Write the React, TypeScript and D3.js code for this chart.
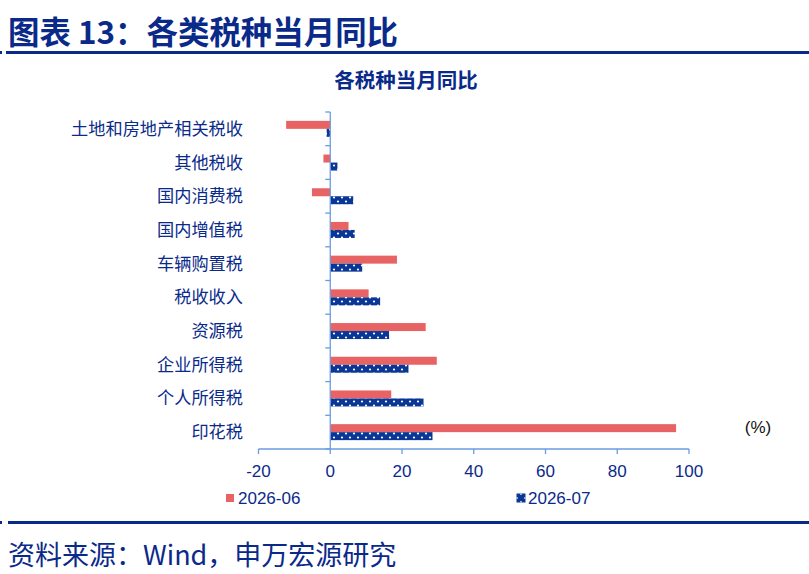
import React from "react";
import * as d3 from "d3";

const categories = [
  "土地和房地产相关税收",
  "其他税收",
  "国内消费税",
  "国内增值税",
  "车辆购置税",
  "税收收入",
  "资源税",
  "企业所得税",
  "个人所得税",
  "印花税",
];
const seriesJun = [-12.3, -1.9, -5.1, 5.1, 18.6, 10.7, 26.6, 29.7, 17.0, 96.4];
const seriesJul = [-1.0, 2.0, 6.4, 6.8, 8.9, 13.9, 16.4, 21.8, 26.0, 28.5];
const xTicks = [-20, 0, 20, 40, 60, 80, 100];
const seriesNames = ["2026-06", "2026-07"];

const W = 809;
const H = 574;
const NAVY = "#0a2a8a";
const AXIS = "#6a9be0";
const RED = "#e86464";
const BLUE = "#0a3696";
const FONT = "'Liberation Sans', 'Noto Sans CJK SC', sans-serif";
const CJK = "'Noto Sans CJK SC', 'Liberation Sans', sans-serif";

export default function App() {
  const x = d3.scaleLinear().domain([-20, 100]).range([258.5, 689]);
  const y = d3.scaleBand().domain(categories).range([112, 449]).padding(0);
  const barH = 8;
  const x0 = x(0);

  return (
    <div style={{ position: "fixed", left: 0, top: 0 }}>
      <svg width={W} height={H} style={{ display: "block", background: "#fff" }}>
        <defs>
          <pattern id="dots" width="8" height="8" patternUnits="userSpaceOnUse">
            <rect width="8" height="8" fill={BLUE} />
            <circle cx="2" cy="1.5" r="1.1" fill="#fff" />
            <circle cx="6" cy="5.5" r="1.1" fill="#fff" />
          </pattern>
        </defs>
        {/* Header */}
        <text x={8} y={44} fontFamily={CJK} fontWeight={700} fontSize={31.5} fill={NAVY} textLength={390} lengthAdjust="spacingAndGlyphs">
          图表 13：各类税种当月同比
        </text>
        <rect x={0} y={51} width={2} height={3} fill={NAVY} />
        <rect x={6} y={51} width={803} height={3} fill={NAVY} />
        <text x={406} y={88} textAnchor="middle" fontFamily={CJK} fontWeight={700} fontSize={20.5} fill={NAVY}>
          各税种当月同比
        </text>

        {/* Bars */}
        {categories.map((c, i) => {
          const yc = (y(c) as number) + y.bandwidth() / 2;
          const a = seriesJun[i];
          const b = seriesJul[i];
          return (
            <g key={c}>
              <rect x={Math.min(x(a), x0)} y={yc - barH} width={Math.abs(x(a) - x0)} height={barH} fill={RED} />
              <rect x={Math.min(x(b), x0)} y={yc} width={Math.abs(x(b) - x0)} height={barH} fill="url(#dots)" />
            </g>
          );
        })}

        {/* Y axis */}
        <line x1={x0} x2={x0} y1={112} y2={449} stroke={AXIS} strokeWidth={1.3} />
        {d3.range(categories.length + 1).map((k) => {
          const yy = 112 + k * y.step();
          return <line key={k} x1={x0 - 5} x2={x0} y1={yy} y2={yy} stroke={AXIS} strokeWidth={1.3} />;
        })}
        {categories.map((c) => (
          <text
            key={c}
            x={243}
            y={(y(c) as number) + y.bandwidth() / 2}
            dy="0.35em"
            textAnchor="end"
            fontFamily={CJK}
            fontSize={17.2}
            fill={NAVY}
          >
            {c}
          </text>
        ))}

        {/* X axis */}
        <line x1={x(-20)} x2={x(100)} y1={449} y2={449} stroke={AXIS} strokeWidth={1.3} />
        {xTicks.map((t) => (
          <g key={t}>
            <line x1={x(t)} x2={x(t)} y1={449} y2={454} stroke={AXIS} strokeWidth={1.3} />
            <text x={x(t)} y={477} textAnchor="middle" fontFamily={FONT} fontSize={17} fill={NAVY}>
              {t}
            </text>
          </g>
        ))}
        <text x={758} y={433} textAnchor="middle" fontFamily={FONT} fontSize={17} fill="#111">
          (%)
        </text>

        {/* Legend */}
        <rect x={226} y={494} width={8} height={8} fill={RED} />
        <text x={238} y={504} fontFamily={FONT} fontSize={17} fill={NAVY}>
          {seriesNames[0]}
        </text>
        <rect x={516.5} y={493.5} width={9} height={9} fill={BLUE} />
        <circle cx={521} cy={494.2} r={0.8} fill="#fff" />
        <circle cx={521} cy={501.8} r={0.8} fill="#fff" />
        <circle cx={517.2} cy={498} r={0.8} fill="#fff" />
        <circle cx={524.8} cy={498} r={0.8} fill="#fff" />
        <text x={528} y={504} fontFamily={FONT} fontSize={17} fill={NAVY}>
          {seriesNames[1]}
        </text>

        {/* Footer */}
        <rect x={0} y={521} width={2} height={3} fill={NAVY} />
        <rect x={8} y={521} width={801} height={3} fill={NAVY} />
        <text x={8} y={565} fontFamily={CJK} fontSize={27} fill={NAVY}>
          资料来源：Wind，申万宏源研究
        </text>
      </svg>
    </div>
  );
}
